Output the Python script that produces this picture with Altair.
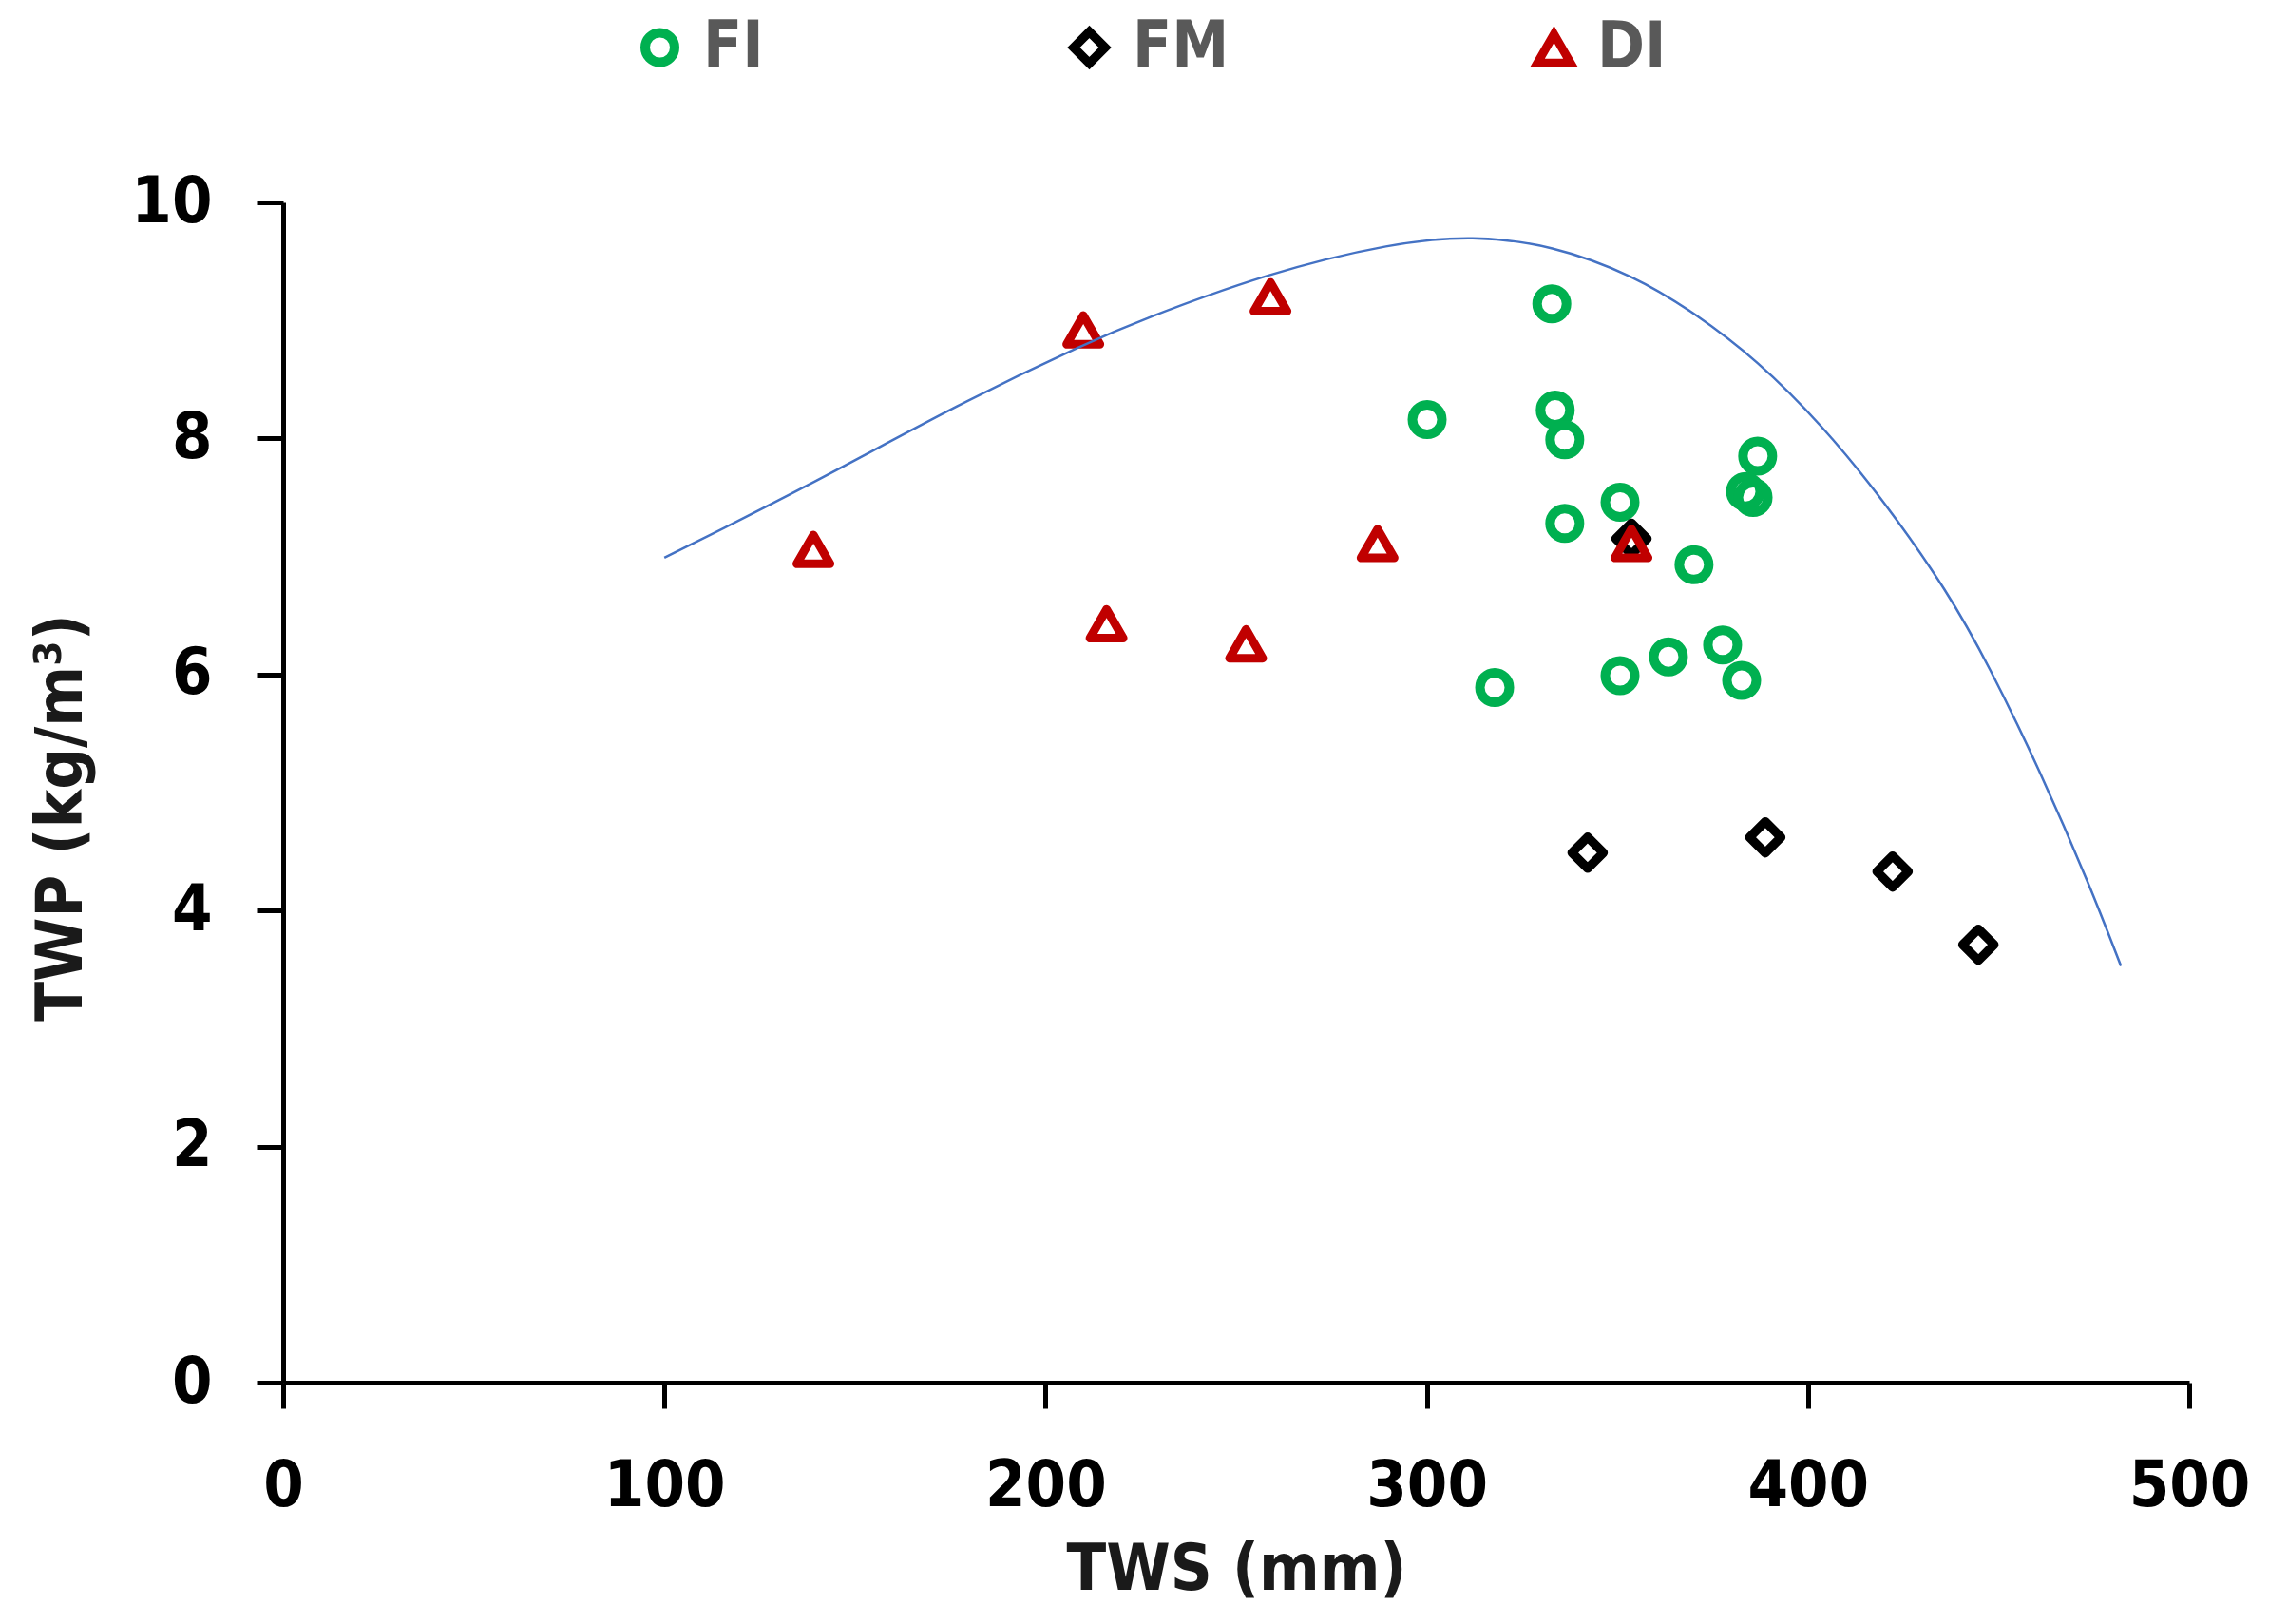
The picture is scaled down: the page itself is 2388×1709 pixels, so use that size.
import altair as alt
import pandas as pd

# ---- data ----
fi_x = [332.8, 300.1, 333.7, 336.2, 386.8, 383.6, 385.6, 350.7, 336.2, 370.1, 377.6, 363.4, 350.7, 382.6, 317.8]
fi_y = [9.14, 8.16, 8.24, 7.99, 7.85, 7.55, 7.50, 7.46, 7.28, 6.93, 6.25, 6.15, 5.99, 5.95, 5.89]

fm_x = [353.7, 342.2, 388.8, 422.2, 444.7]
fm_y = [7.15, 4.49, 4.62, 4.33, 3.71]

di_x = [139.1, 209.9, 259.0, 216.0, 252.6, 287.1, 353.7]
di_y = [7.06, 8.92, 9.20, 6.43, 6.26, 7.11, 7.11]

curve_x = [100, 136.8, 178.2, 211.6, 224.8, 258.0, 291.4, 312.0, 332.8, 354.4, 370.0, 386.8,
           403.5, 420.0, 436.7, 447.4, 460.8, 474.1, 482.1]
curve_y = [6.99, 7.58, 8.31, 8.82, 9.00, 9.40, 9.66, 9.72, 9.64, 9.38, 9.07, 8.66,
           8.12, 7.47, 6.70, 6.08, 5.19, 4.20, 3.53]

groups = ["FI", "FM", "DI"]
group_colors = ["#00B050", "#000000", "#C00000"]
group_shapes = ["circle", "diamond", "triangle-up"]
group_sizes = [961, 1225, 1296]
group_strokes = [10, 9, 12]

x_ticks = [0, 100, 200, 300, 400, 500]
y_ticks = [0, 2, 4, 6, 8, 10]

rows = []
for g, xs, ys in (("FI", fi_x, fi_y), ("FM", fm_x, fm_y), ("DI", di_x, di_y)):
    for a, b in zip(xs, ys):
        rows.append({"TWS": a, "TWP": b, "grp": g})
pts = pd.DataFrame(rows)
pts["order"] = range(len(pts))
curve = pd.DataFrame({"TWS": curve_x, "TWP": curve_y})

FONT = "DejaVu Sans Condensed, Liberation Sans Narrow, DejaVu Sans, sans-serif"

W, H = 2006, 1242

xscale = alt.Scale(domain=[0, 500], nice=False, zero=False)
yscale = alt.Scale(domain=[0, 10], nice=False, zero=False)

xaxis = alt.Axis(values=x_ticks, format="d", labelFlush=False, title="TWS (mm)",
                 titleX=1003, titleY=197, titleBaseline="middle", titleAlign="center")
yaxis = alt.Axis(values=y_ticks, format="d", labelFlush=False, title="TWP (kg/m³)",
                 titleX=-233, titleY=647, titleAngle=270,
                 titleBaseline="middle", titleAlign="center")

points = alt.Chart(pts).mark_point(filled=False, strokeJoin="round", opacity=1).encode(
    x=alt.X("TWS:Q", scale=xscale, axis=xaxis),
    y=alt.Y("TWP:Q", scale=yscale, axis=yaxis),
    color=alt.Color("grp:N", scale=alt.Scale(domain=groups, range=group_colors),
                    legend=alt.Legend(title=None, orient="none", legendX=363, legendY=-197,
                                      direction="horizontal", columnPadding=306,
                                      symbolSize=1000, symbolStrokeWidth=10,
                                      labelFontSize=67, labelFont=FONT, labelColor="#595959",
                                      labelFontWeight="bold",
                                      labelOffset=12, padding=0)),
    shape=alt.Shape("grp:N", scale=alt.Scale(domain=groups, range=group_shapes)),
    size=alt.Size("grp:N", scale=alt.Scale(domain=groups, range=group_sizes), legend=None),
    strokeWidth=alt.StrokeWidth("grp:N", scale=alt.Scale(domain=groups, range=group_strokes), legend=None),
    order=alt.Order("order:Q"),
)

line = alt.Chart(curve).mark_line(color="#4472C4", strokeWidth=2.5, interpolate="basis").encode(
    x=alt.X("TWS:Q", scale=xscale),
    y=alt.Y("TWP:Q", scale=yscale),
)

chart = alt.layer(points, line).properties(
    width=W, height=H,
    autosize=alt.AutoSizeParams(type="none"),
    padding={"left": 290, "top": 205, "right": 76, "bottom": 240},
).configure_view(stroke=None).configure_axis(
    grid=False,
    domainColor="black", domainWidth=5,
    tickColor="black", tickWidth=5, tickSize=27,
    labelFont=FONT, labelFontSize=68, labelFontWeight="bold", labelColor="black",
    labelPadding=48,
    titleFont=FONT, titleFontSize=68, titleFontWeight="bold", titleColor="#1a1a1a",
)

chart.save("out.html", embed_options={"renderer": "svg", "actions": False})
